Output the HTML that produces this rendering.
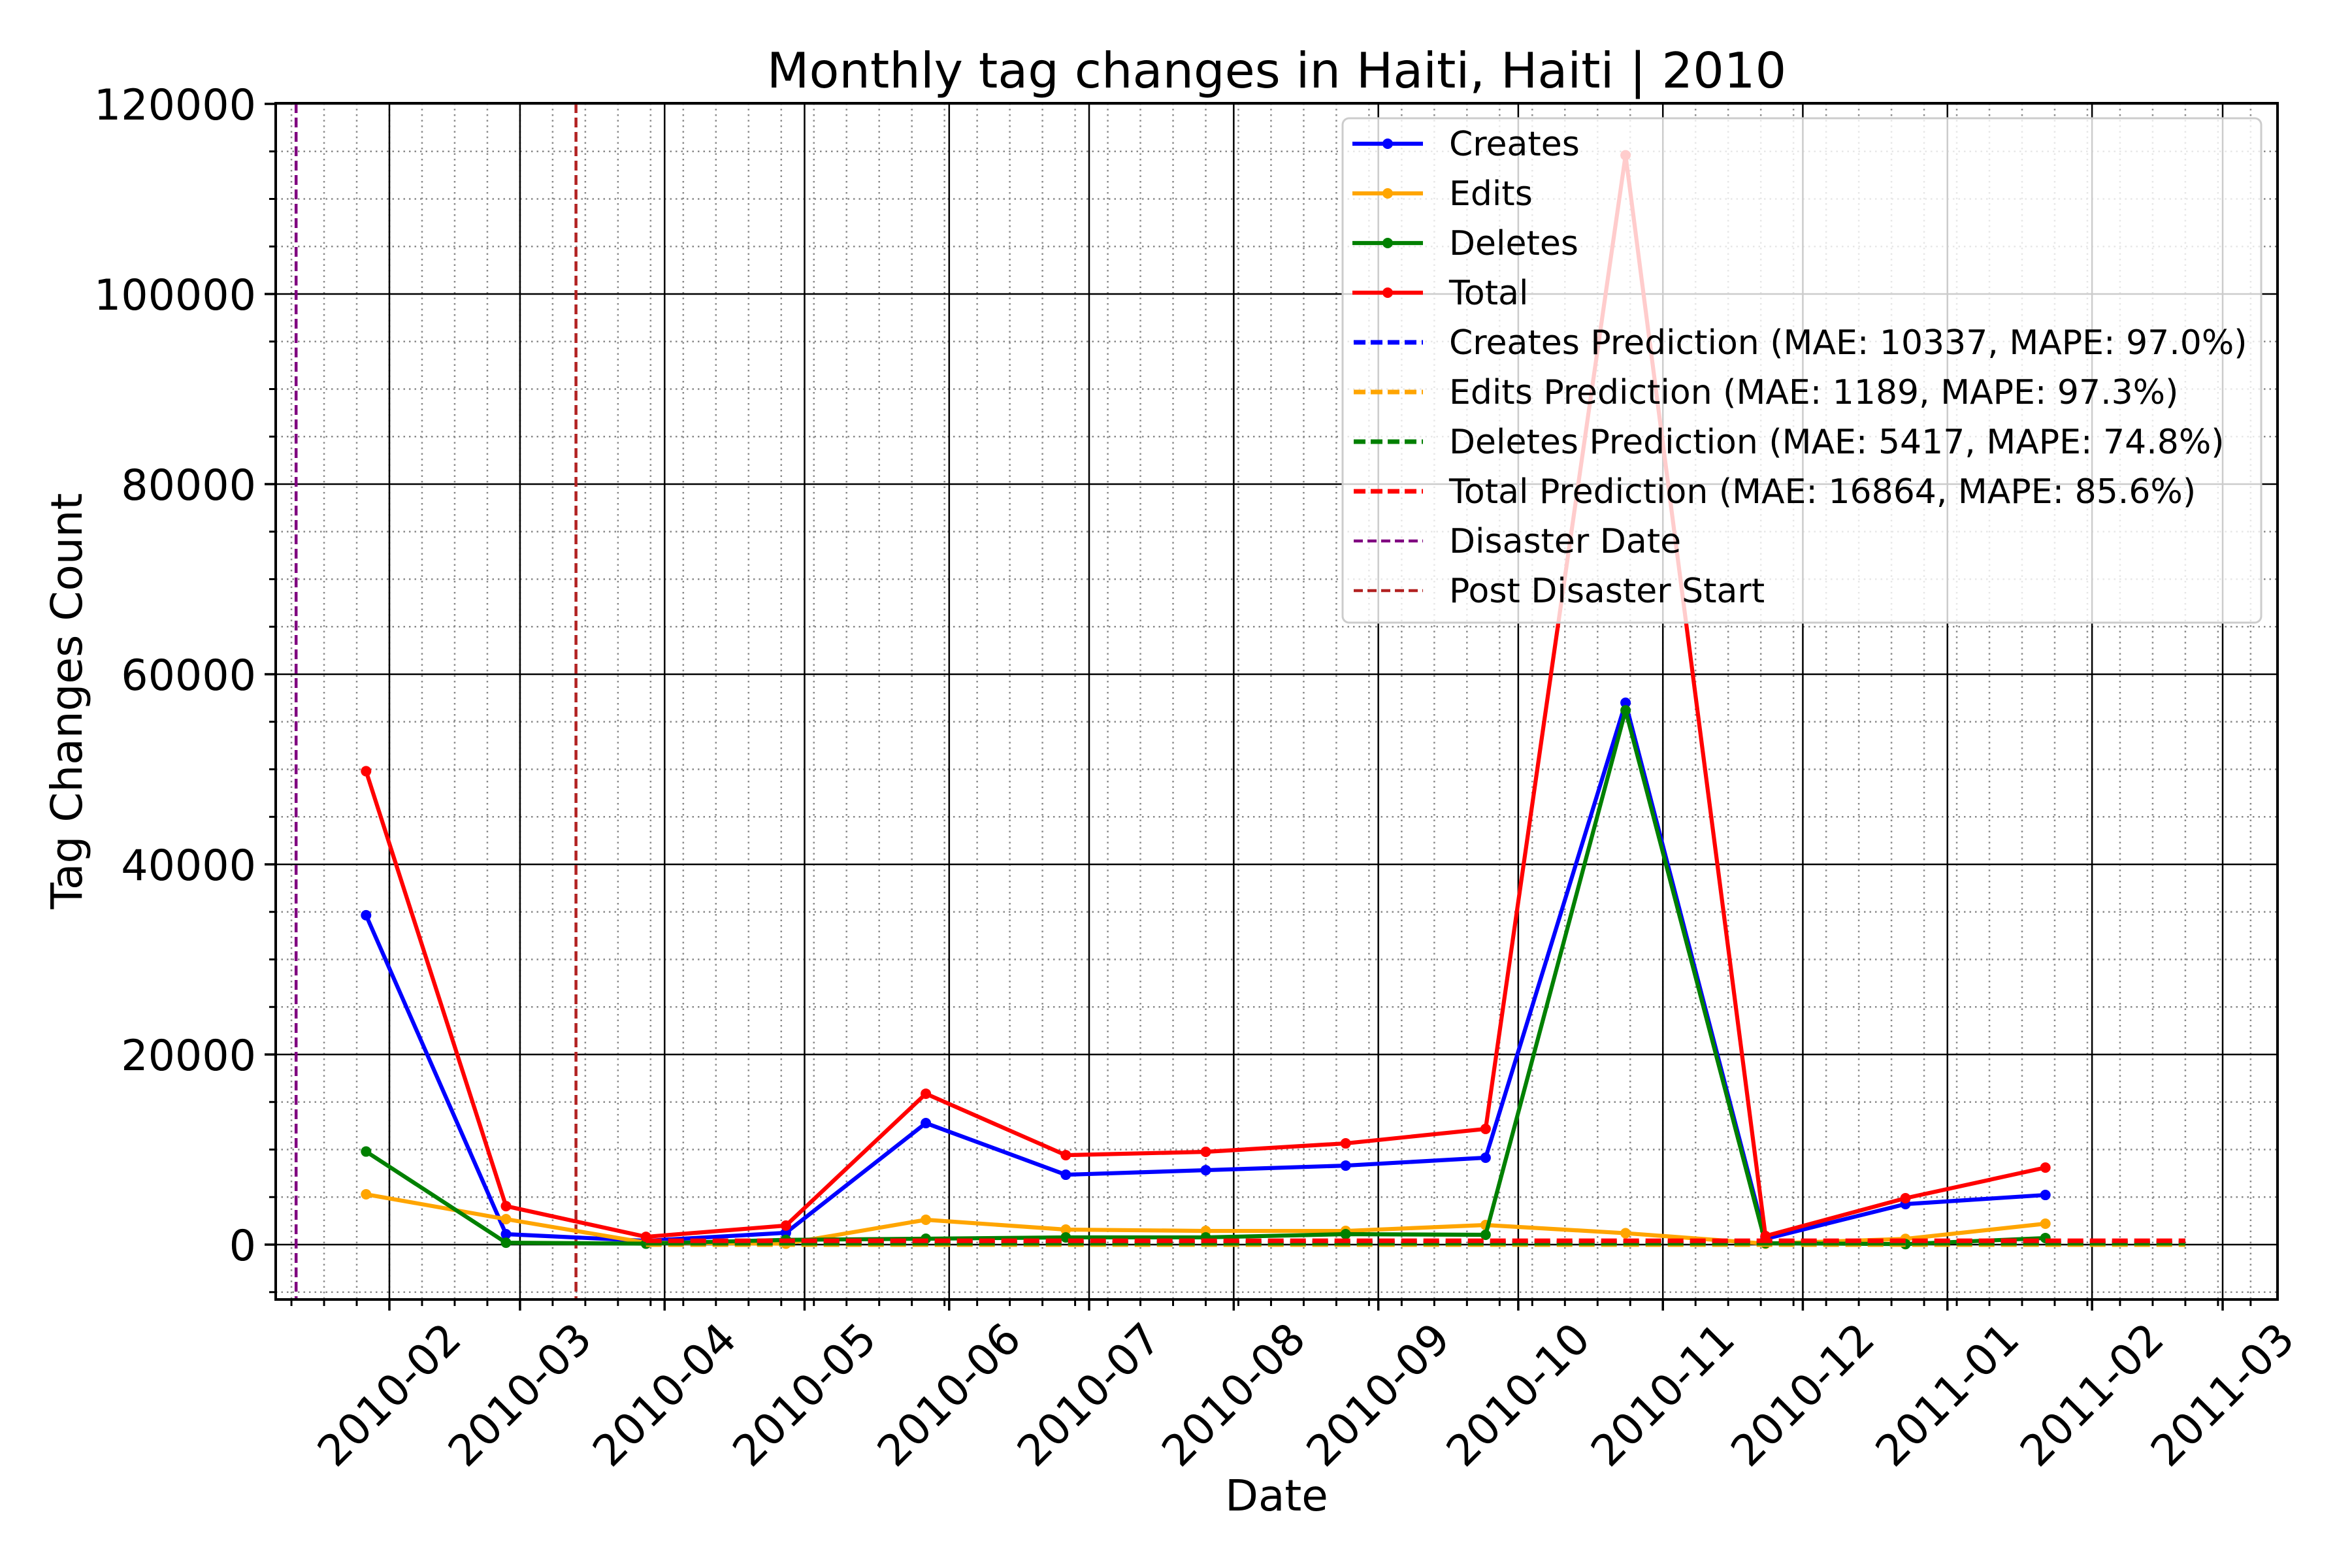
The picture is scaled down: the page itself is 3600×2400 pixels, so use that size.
<!DOCTYPE html>
<html><head><meta charset="utf-8"><style>
html,body{margin:0;padding:0;background:#fff;}
svg{display:block;font-family:"DejaVu Sans","Liberation Sans",sans-serif;}
</style></head><body>
<svg id="chart" width="3600" height="2400" viewBox="0 0 3600 2400" xmlns="http://www.w3.org/2000/svg">
<rect x="0" y="0" width="3600" height="2400" fill="#fff"/>
<g id="grid"></g>
<g id="series"></g>
<g id="legend"></g>
<g id="axes"></g>
<text x="1954" y="134" text-anchor="middle" font-size="75">Monthly tag changes in Haiti, Haiti | 2010</text>
<text x="1954" y="2312" text-anchor="middle" font-size="66">Date</text>
<text transform="translate(125,1073) rotate(-90)" text-anchor="middle" font-size="66">Tag Changes Count</text>
</svg>
<script>
const dates = ["2010-01-27","2010-02-26","2010-03-28","2010-04-27","2010-05-27","2010-06-26","2010-07-26","2010-08-25","2010-09-24","2010-10-24","2010-11-23","2010-12-23","2011-01-22"];
const creates = [34650,1100,400,1240,12780,7350,7830,8310,9140,57000,600,4260,5220];
const edits = [5290,2680,200,100,2610,1580,1440,1440,2060,1200,100,600,2200];
const deletes = [9790,200,100,500,620,760,760,1100,1030,56200,150,50,690];
const total = [49800,4050,820,2000,15870,9410,9760,10650,12170,114600,900,4880,8100];
const predDates = ["2010-03-28","2010-04-27","2010-05-27","2010-06-26","2010-07-26","2010-08-25","2010-09-24","2010-10-24","2010-11-23","2010-12-23","2011-01-22","2011-02-21"];
const createsPred = [200,200,200,200,200,200,200,200,200,200,200,200];
const editsPred = [0,0,0,0,0,0,0,0,0,0,0,0];
const deletesPred = [150,150,150,150,150,150,150,150,150,150,150,150];
const totalPred = [400,400,400,400,400,400,400,400,400,400,400,400];
const disasterDate = "2010-01-12";
const postDisasterDate = "2010-03-13";
const yTicks = [0,20000,40000,60000,80000,100000,120000];
const xTickLabels = ["2010-02","2010-03","2010-04","2010-05","2010-06","2010-07","2010-08","2010-09","2010-10","2010-11","2010-12","2011-01","2011-02","2011-03"];
const legendLabels = ["Creates","Edits","Deletes","Total","Creates Prediction (MAE: 10337, MAPE: 97.0%)","Edits Prediction (MAE: 1189, MAPE: 97.3%)","Deletes Prediction (MAE: 5417, MAPE: 74.8%)","Total Prediction (MAE: 16864, MAPE: 85.6%)","Disaster Date","Post Disaster Start"];

const NS="http://www.w3.org/2000/svg";
const L=422,R=3486,T=158,B=1989;
const DAY=86400000, X0=Date.UTC(2010,1,1), X0PX=596, PXD=7.14;
function xs(d){const p=d.split("-");const t=Date.UTC(+p[0],+p[1]-1,p[2]?+p[2]:1);return X0PX+(t-X0)/DAY*PXD;}
const Y0PX=1905, PXV=291/20000;
function ys(v){return Y0PX-v*PXV;}
function mk(tag,attrs,parent){const e=document.createElementNS(NS,tag);for(const k in attrs)e.setAttribute(k,attrs[k]);parent.appendChild(e);return e;}
const grid=document.getElementById('grid'),series=document.getElementById('series'),legend=document.getElementById('legend'),axes=document.getElementById('axes');

for(let v=-5000;v<=120000;v+=5000){ if(v%20000===0)continue; const y=ys(v); if(y<T||y>B)continue;
  const g=mk('line',{x1:L,x2:R,y1:y,y2:y,stroke:'#888','stroke-width':2.5,'stroke-dasharray':'2.5 6'},grid);
  
  
  const t=mk('line',{x1:L-10,x2:L,y1:y,y2:y,stroke:'#000','stroke-width':3},axes);
  
  
}
for(let t=Date.UTC(2010,0,4);;t+=7*DAY){const x=X0PX+(t-X0)/DAY*PXD; if(x>R)break; if(x<L)continue;
  const g=mk('line',{x1:x,x2:x,y1:T,y2:B,stroke:'#888','stroke-width':2.5,'stroke-dasharray':'2.5 6'},grid);
  
  
  const tk=mk('line',{x1:x,x2:x,y1:B,y2:B+10,stroke:'#000','stroke-width':3},axes);
  
  
}
yTicks.forEach(v=>{const y=ys(v);
  const g=mk('line',{x1:L,x2:R,y1:y,y2:y,stroke:'#000','stroke-width':2.5},grid);
  
  
  const t=mk('line',{x1:L-17,x2:L,y1:y,y2:y,stroke:'#000','stroke-width':3.5},axes);
  
  
  const tx=mk('text',{x:L-30,y:y+24,'text-anchor':'end','font-size':65},axes);
  tx.textContent=v;
  
  
});
xTickLabels.forEach(s=>{const x=xs(s);
  const g=mk('line',{x1:x,x2:x,y1:T,y2:B,stroke:'#000','stroke-width':2.5},grid);
  
  
  const t=mk('line',{x1:x,x2:x,y1:B,y2:B+17,stroke:'#000','stroke-width':3.5},axes);
  
  
  const tx=mk('text',{x:0,y:0,'text-anchor':'middle','dominant-baseline':'central','font-size':66,transform:`translate(${x},2135) rotate(-45)`},axes);
  tx.textContent=s;
  
  
});
[[disasterDate,'#800080','disaster-date-line'],[postDisasterDate,'#b22222','post-disaster-start-line']].forEach(a=>{
  const x=xs(a[0]);
  const l=mk('line',{x1:x,x2:x,y1:T,y2:B,stroke:a[1],'stroke-width':4.5,'stroke-dasharray':'15 7'},series);
  
  
});
function drawLine(ds,vals,color,name){
  const pts=ds.map((d,i)=>xs(d)+','+ys(vals[i])).join(' ');
  const p=mk('polyline',{points:pts,fill:'none',stroke:color,'stroke-width':6.2,'stroke-linejoin':'round'},series);
  
  
  ds.forEach((d,i)=>{const c=mk('circle',{cx:xs(d),cy:ys(vals[i]),r:8,fill:color},series);
    
    });
}
function drawPred(ds,vals,color,name){
  const pts=ds.map((d,i)=>xs(d)+','+ys(vals[i])).join(' ');
  const p=mk('polyline',{points:pts,fill:'none',stroke:color,'stroke-width':7,'stroke-dasharray':'24 10'},series);
  
  
}
drawLine(dates,creates,'#0000ff','creates');
drawLine(dates,edits,'#ffa500','edits');
drawLine(dates,deletes,'#008000','deletes');
drawLine(dates,total,'#ff0000','total');
drawPred(predDates,createsPred,'#0000ff','creates-prediction-line');
drawPred(predDates,editsPred,'#ffa500','edits-prediction-line');
drawPred(predDates,deletesPred,'#008000','deletes-prediction-line');
drawPred(predDates,totalPred,'#ff0000','total-prediction-line');
const sp=mk('rect',{x:L,y:T,width:R-L,height:B-T,fill:'none',stroke:'#000','stroke-width':4},axes);


const lb=mk('rect',{x:2055,y:181,width:1406,height:772,rx:10,fill:'#fff','fill-opacity':0.8,stroke:'#cccccc','stroke-width':3},legend);


const lcol=['#0000ff','#ffa500','#008000','#ff0000','#0000ff','#ffa500','#008000','#ff0000','#800080','#b22222'];
legendLabels.forEach((s,i)=>{const y=220+i*76;
  const g=mk('g',{},legend);
  
  
  if(i<4){mk('line',{x1:2070,x2:2178,y1:y,y2:y,stroke:lcol[i],'stroke-width':6.2},g);mk('circle',{cx:2124,cy:y,r:8,fill:lcol[i]},g);}
  else if(i<8){mk('line',{x1:2072,x2:2178,y1:y,y2:y,stroke:lcol[i],'stroke-width':7,'stroke-dasharray':'18 8'},g);}
  else {mk('line',{x1:2072,x2:2178,y1:y,y2:y,stroke:lcol[i],'stroke-width':4.5,'stroke-dasharray':'14 7'},g);}
  const t=mk('text',{x:2218,y:y+18,'font-size':52},g);t.textContent=s;
});
</script>
</body></html>
